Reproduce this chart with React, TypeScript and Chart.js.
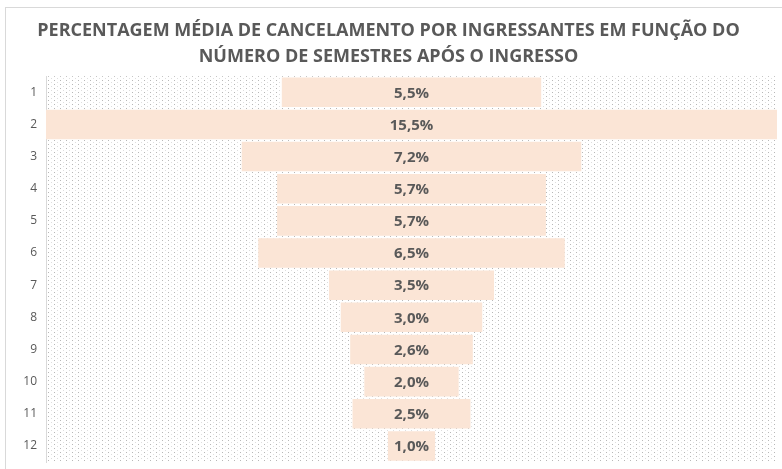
import React, { useEffect, useRef } from "react";
import { Chart, registerables } from "chart.js";

Chart.register(...registerables);

const categories = ["1", "2", "3", "4", "5", "6", "7", "8", "9", "10", "11", "12"];
const values = [5.5, 15.5, 7.2, 5.7, 5.7, 6.5, 3.5, 3.0, 2.6, 2.0, 2.5, 1.0];
const titleLines = [
  "PERCENTAGEM MÉDIA DE CANCELAMENTO POR INGRESSANTES EM FUNÇÃO DO",
  "NÚMERO DE SEMESTRES APÓS O INGRESSO",
];

const TEXT = "#595959";
const BAR = "#FBE5D6";
const FONT = "'Open Sans', 'Noto Sans', sans-serif";

function makePattern(): CanvasPattern | string {
  const c = document.createElement("canvas");
  c.width = 6;
  c.height = 4;
  const g = c.getContext("2d");
  if (!g) return "#f4f4f4";
  g.fillStyle = "#ffffff";
  g.fillRect(0, 0, 6, 4);
  g.fillStyle = "#b8b8b8";
  g.fillRect(0, 0, 1, 1);
  g.fillStyle = "#dedede";
  g.fillRect(3, 2, 1, 1);
  const p = g.createPattern(c, "repeat");
  return p || "#f4f4f4";
}

export default function App() {
  const ref = useRef<HTMLCanvasElement | null>(null);

  useEffect(() => {
    document.body.style.margin = "0";
    const canvas = ref.current;
    if (!canvas) return;
    const pattern = makePattern();
    const maxV = Math.max(...values);

    const bgPlugin = {
      id: "bgPlugin",
      beforeDraw(chart: any) {
        const { ctx, chartArea } = chart;
        ctx.save();
        ctx.fillStyle = "#ffffff";
        ctx.fillRect(0, 0, chart.width, chart.height);
        ctx.strokeStyle = "#d9d9d9";
        ctx.lineWidth = 1;
        ctx.strokeRect(5.5, 7.5, chart.width + 20, chart.height + 20);
        ctx.fillStyle = pattern;
        ctx.fillRect(chartArea.left, chartArea.top, chartArea.right - chartArea.left, chartArea.bottom - chartArea.top);
        ctx.restore();
      },
    };

    const labelPlugin = {
      id: "labelPlugin",
      afterDatasetsDraw(chart: any) {
        const { ctx } = chart;
        const meta = chart.getDatasetMeta(0);
        ctx.save();
        ctx.fillStyle = TEXT;
        ctx.font = `bold 15px ${FONT}`;
        ctx.textAlign = "center";
        ctx.textBaseline = "middle";
        meta.data.forEach((el: any, i: number) => {
          const p = el.getProps(["x", "y", "base"], true);
          const cx = (p.x + p.base) / 2;
          ctx.fillText(values[i].toFixed(1).replace(".", ",") + "%", cx, p.y + 1);
        });
        ctx.restore();
      },
    };

    const chart = new Chart(canvas, {
      type: "bar",
      data: {
        labels: categories,
        datasets: [
          {
            data: values.map((v) => [-v / 2, v / 2]) as any,
            backgroundColor: BAR,
            borderWidth: 0,
            barPercentage: 0.92,
            categoryPercentage: 1,
          },
        ],
      },
      options: {
        indexAxis: "y",
        animation: false,
        responsive: false,
        layout: { padding: { left: 0, right: 5, top: 0, bottom: 7 } },
        plugins: {
          legend: { display: false },
          tooltip: { enabled: false },
          title: {
            display: true,
            text: titleLines,
            color: TEXT,
            font: { family: FONT, size: 18, weight: "bold", lineHeight: 1.45 },
            padding: { top: 18, bottom: 6 },
          },
        },
        scales: {
          x: {
            type: "linear",
            min: -maxV / 2,
            max: maxV / 2,
            display: false,
          },
          y: {
            type: "category",
            offset: true,
            grid: { display: false, drawTicks: false },
            border: { display: true, color: "#d9d9d9" },
            ticks: {
              color: TEXT,
              font: { family: FONT, size: 12 },
              padding: 9,
            },
            afterFit(scale: any) {
              scale.width = 46;
              scale.paddingTop = 0;
              scale.paddingBottom = 0;
            },
          },
        },
      },
      plugins: [bgPlugin, labelPlugin],
    });

    return () => chart.destroy();
  }, []);

  return (
    <div style={{ width: 782, height: 469 }}>
      <canvas ref={ref} width={782} height={469} />
    </div>
  );
}
